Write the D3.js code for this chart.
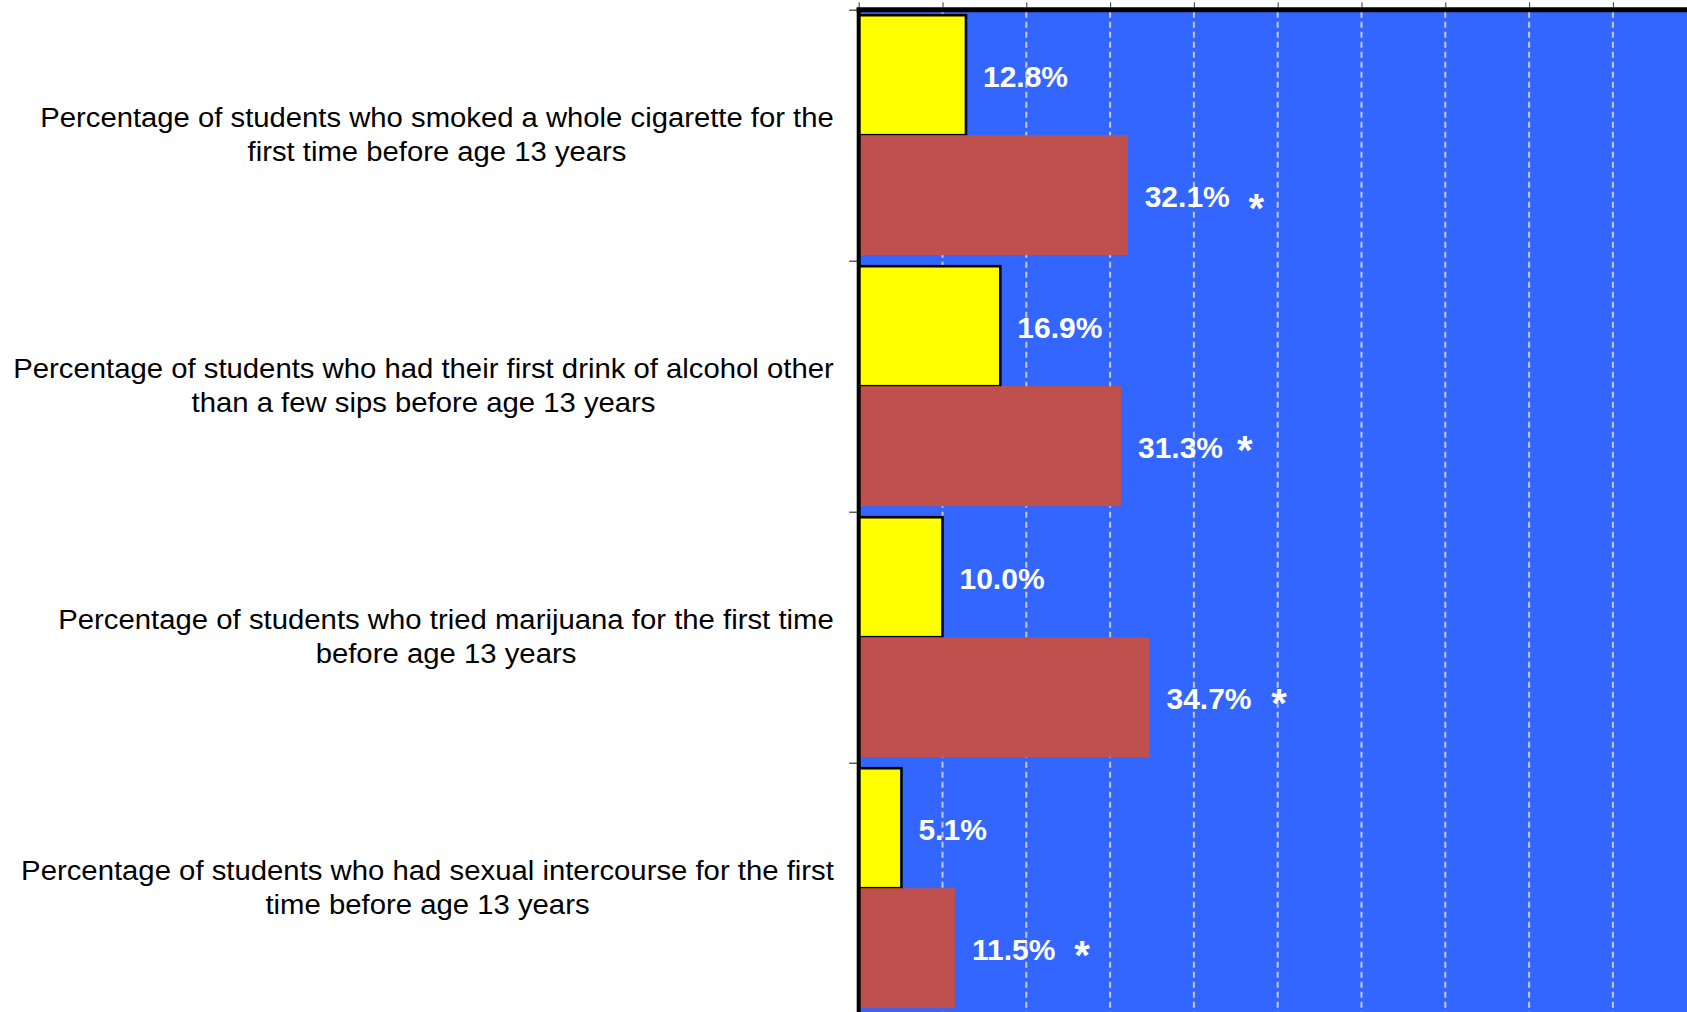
<!DOCTYPE html>
<html>
<head>
<meta charset="utf-8">
<script src="https://cdn.jsdelivr.net/npm/d3@7"></script>
<style>
  html, body { margin: 0; padding: 0; background: #ffffff; }
  svg { display: block; }
</style>
</head>
<body>
<svg id="chart" width="1687" height="1012"></svg>
<script>
// ---------- DATA ----------
const categories = [
  "Percentage of students who smoked a whole cigarette for the\nfirst time before age 13 years",
  "Percentage of students who had their first drink of alcohol other\nthan a few sips before age 13 years",
  "Percentage of students who tried marijuana for the first time\nbefore age 13 years",
  "Percentage of students who had sexual intercourse for the first\ntime before age 13 years"
];
const seriesNames = ["series1", "series2"];
const series1Values = [12.8, 16.9, 10.0, 5.1];
const series2Values = [32.1, 31.3, 34.7, 11.5];
const series2Significant = [true, true, true, true];
const xTicks = [0, 10, 20, 30, 40, 50, 60, 70, 80, 90, 100];

// ---------- LAYOUT / STYLE ----------
const W = 1687, H = 1012;
const plotLeft = 858.7, plotRight = 1696.7;
const plotTop = 9.7, plotBottom = 1013.7;
const colors = { series1: "#FFFF00", series2: "#C0504D" };
const labelTargetWidths = [794, 821, 776, 813];
const labelRight = 834;
// asterisk placement relative to value label end / baseline
const astOffsets = [
  { dx: 26.5, dy: -6.6 },
  { dx: 21.8, dy: -14.7 },
  { dx: 27.5, dy: -13.6 },
  { dx: 26.5, dy: -12.5 }
];

const svg = d3.select("#chart");

const x = d3.scaleLinear().domain([0, 100]).range([plotLeft, plotRight]);
const y0 = d3.scaleBand().domain(d3.range(categories.length)).range([plotTop, plotBottom]).padding(0);
const y1 = d3.scaleBand().domain(seriesNames).range([0, y0.bandwidth()]).paddingInner(0).paddingOuter(0.0458);

const data = categories.map((c, i) => ({
  i, cat: c,
  vals: [
    { key: "series1", v: series1Values[i], sig: false },
    { key: "series2", v: series2Values[i], sig: series2Significant[i] }
  ]
}));

// background
svg.append("rect")
  .attr("x", plotLeft).attr("y", plotTop)
  .attr("width", W - plotLeft).attr("height", H - plotTop)
  .attr("fill", "#3366FF");

// gridlines
svg.append("g").selectAll("line")
  .data(xTicks.filter(t => t > 0))
  .join("line")
  .attr("x1", d => x(d)).attr("x2", d => x(d))
  .attr("y1", plotTop + 2).attr("y2", H)
  .attr("stroke", "#C8C8C8")
  .attr("stroke-width", 2)
  .attr("stroke-dasharray", "6,4");

// bars
const groups = svg.append("g").selectAll("g")
  .data(data).join("g")
  .attr("transform", d => `translate(0,${y0(d.i)})`);

groups.selectAll("rect")
  .data(d => d.vals)
  .join("rect")
  .attr("x", x(0))
  .attr("y", d => y1(d.key))
  .attr("width", d => x(d.v) - x(0))
  .attr("height", y1.bandwidth())
  .attr("fill", d => colors[d.key])
  .attr("stroke", d => d.key === "series1" ? "#000" : "none")
  .attr("stroke-width", 2.6);

// value labels
groups.each(function(d) {
  const g = d3.select(this);
  d.vals.forEach(v => {
    const bx = x(v.v) + 17;
    const by = y1(v.key) + y1.bandwidth() / 2 + 12;
    const t = g.append("text")
      .attr("x", bx).attr("y", by)
      .attr("fill", "#ffffff")
      .attr("font-family", "Liberation Sans, Arial, sans-serif")
      .attr("font-weight", "bold")
      .attr("font-size", 30)
      .text(v.v.toFixed(1) + "%");
    if (v.sig) {
      const len = t.node().getComputedTextLength();
      const off = astOffsets[d.i];
      g.append("text")
        .attr("x", bx + len + off.dx)
        .attr("y", by + off.dy + 21)
        .attr("text-anchor", "middle")
        .attr("fill", "#ffffff")
        .attr("font-family", "Liberation Sans, Arial, sans-serif")
        .attr("font-weight", "bold")
        .attr("font-size", 40)
        .text("*");
    }
  });
});

// top axis (thick line + ticks)
const xAxis = d3.axisTop(x).tickValues(xTicks).tickSize(5).tickFormat("");
const gx = svg.append("g").attr("transform", `translate(0,${plotTop + 0.1 - 2.5})`).call(xAxis);
gx.select(".domain").remove();
gx.selectAll(".tick line").attr("stroke", "#333").attr("stroke-width", 1);
svg.append("line")
  .attr("x1", plotLeft - 2).attr("x2", W)
  .attr("y1", plotTop + 0.1).attr("y2", plotTop + 0.1)
  .attr("stroke", "#000").attr("stroke-width", 5);

// left axis
const yAxisScale = d3.scaleLinear().domain([0, categories.length]).range([plotTop, plotBottom]);
const yAxis = d3.axisLeft(yAxisScale).tickValues(d3.range(categories.length + 1)).tickSize(8).tickFormat("");
const gy = svg.append("g").attr("transform", `translate(${plotLeft - 1.5},0)`).call(yAxis);
gy.select(".domain").remove();
gy.selectAll(".tick line").attr("stroke", "#333").attr("stroke-width", 1.2);
svg.append("line")
  .attr("x1", plotLeft).attr("x2", plotLeft)
  .attr("y1", plotTop - 2).attr("y2", H)
  .attr("stroke", "#000").attr("stroke-width", 4);

// category labels
const lineGap = 33.5;
data.forEach((d, i) => {
  const lines = d.cat.split("\n");
  const cy = y0(i) + y0.bandwidth() / 2;
  const g = svg.append("g");
  const texts = lines.map((ln, k) => g.append("text")
    .attr("x", 0)
    .attr("y", cy + (k - (lines.length - 1) / 2) * lineGap + 9)
    .attr("text-anchor", "middle")
    .attr("fill", "#000")
    .attr("font-family", "Liberation Sans, Arial, sans-serif")
    .attr("font-size", 28)
    .text(ln));
  const maxW = d3.max(texts, t => t.node().getComputedTextLength());
  const s = labelTargetWidths[i] / maxW;
  const cx = labelRight - labelTargetWidths[i] / 2;
  g.attr("transform", `translate(${cx},0) scale(${s},1)`);
});
</script>
</body>
</html>
